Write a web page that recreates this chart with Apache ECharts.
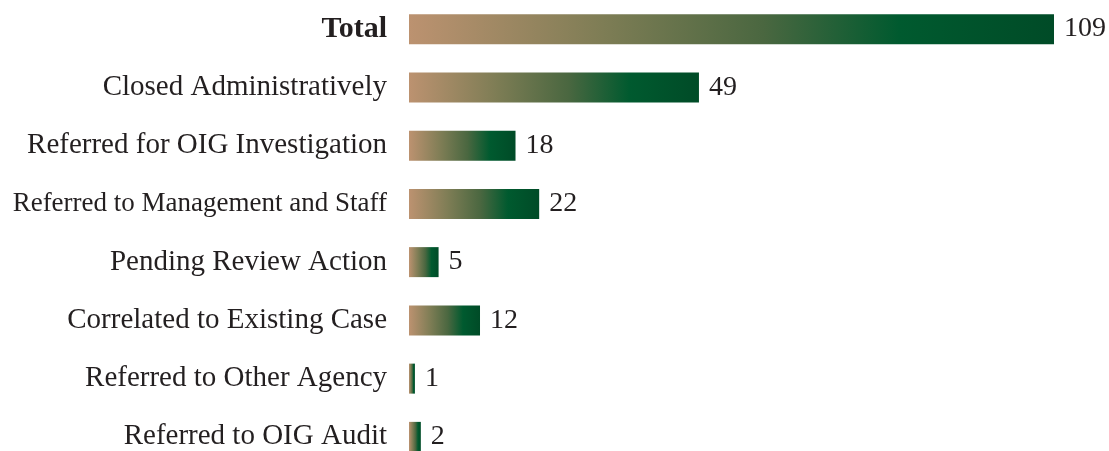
<!DOCTYPE html>
<html><head><meta charset="utf-8">
<script src="https://cdn.jsdelivr.net/npm/echarts@6/dist/echarts.min.js"></script>
<style>html,body{margin:0;padding:0;background:#fff}#c{width:1109px;height:451px}</style>
</head><body><div id="c"></div>
<script>
const categories = ["Total","Closed Administratively","Referred for OIG Investigation","Referred to Management and Staff","Pending Review Action","Correlated to Existing Case","Referred to Other Agency","Referred to OIG Audit"];
const values = [109,49,18,22,5,12,1,2];

const grad = new echarts.graphic.LinearGradient(0,0,1,0,[
  {offset:0,color:'#bc9270'},
  {offset:0.3,color:'#7e7d55'},
  {offset:0.55,color:'#4a6740'},
  {offset:0.76,color:'#005a2f'},
  {offset:1,color:'#004b27'}
]);
const chart = echarts.init(document.getElementById('c'));
chart.setOption({
  animation:false,
  grid:{left:409,top:0,width:645,height:466,containLabel:false,outerBoundsMode:'none'},
  xAxis:{type:'value',min:0,max:109,show:false},
  yAxis:{type:'category',data:categories,inverse:true,
    axisLine:{show:false},axisTick:{show:false},
    axisLabel:{margin:22,fontFamily:'Liberation Serif',fontSize:29,color:'#231f20',
      formatter:(v)=>v==='Total'?'{b|'+v+'}':(v==='Referred to Management and Staff'?'{n|'+v+'}':v),
      rich:{b:{fontWeight:'bold',fontFamily:'Liberation Serif',fontSize:30,color:'#231f20'},
            n:{fontFamily:'Liberation Serif',fontSize:27,color:'#231f20'}}}},
  series:[{type:'bar',data:values,barWidth:30,
    itemStyle:{color:grad},
    label:{show:true,position:'right',distance:10,fontFamily:'Liberation Serif',fontSize:28,color:'#231f20'}}]
});
</script></body></html>
